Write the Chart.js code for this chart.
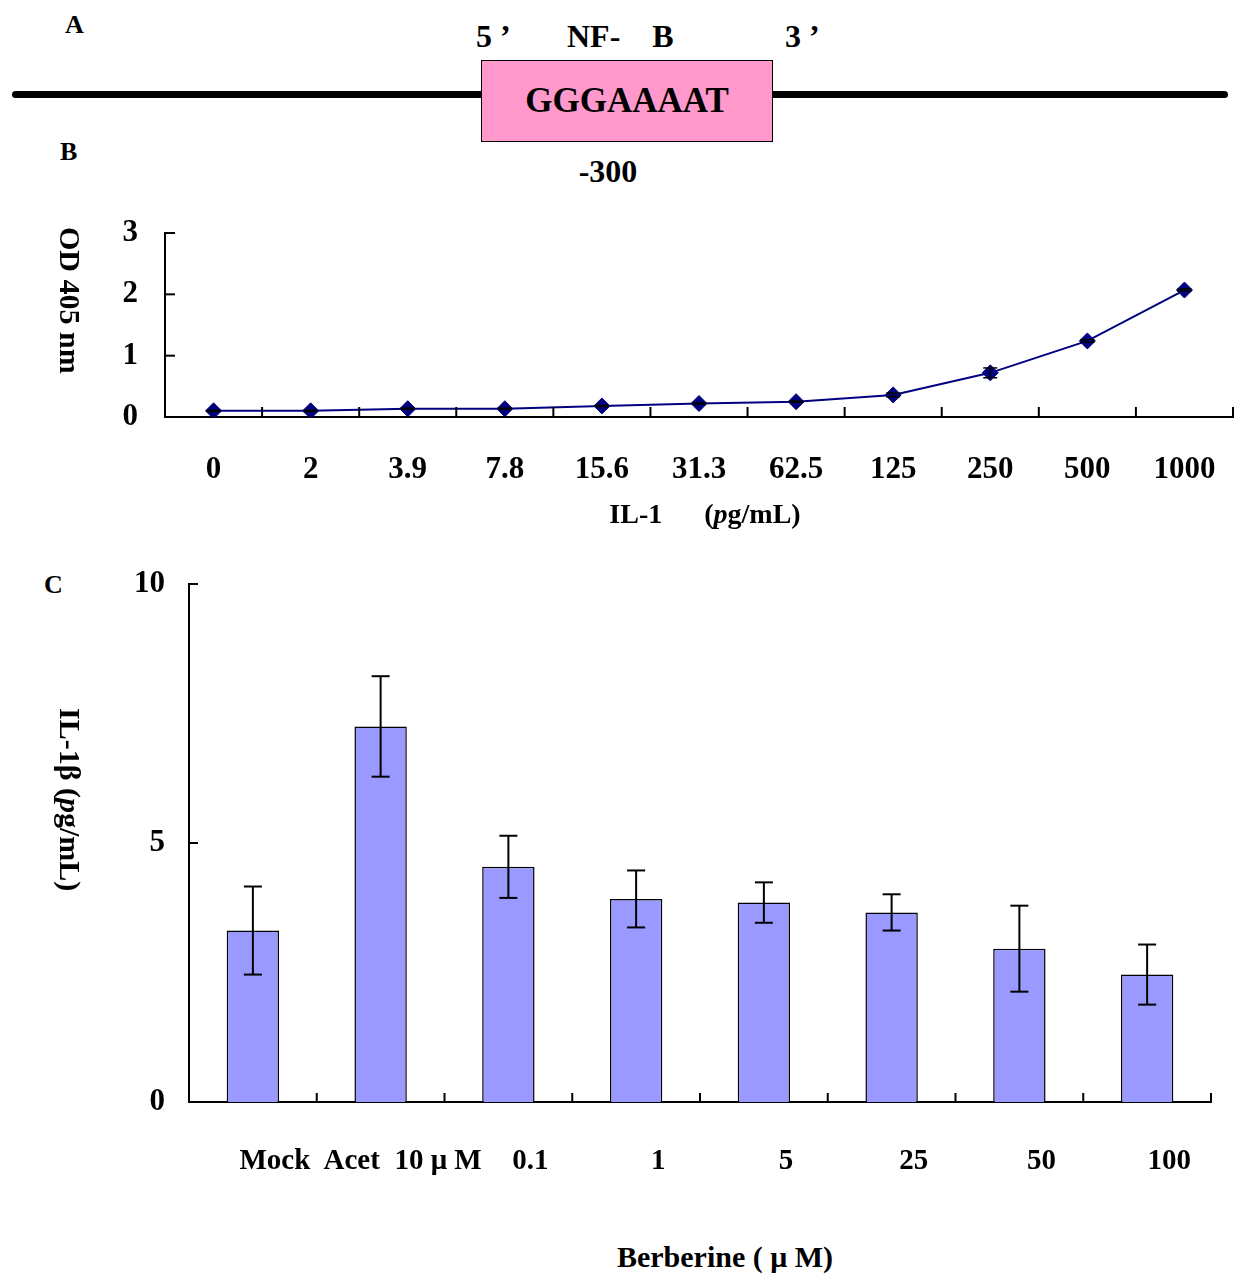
<!DOCTYPE html>
<html>
<head>
<meta charset="utf-8">
<script src="https://cdn.jsdelivr.net/npm/chart.js@4.4.1/dist/chart.umd.min.js"></script>
<style>
body { margin: 0; background: #fff; }
#page { position: relative; width: 1242px; height: 1275px; font-family: "Liberation Serif", "Times New Roman", serif; font-weight: bold; color: #000; }
.t { position: absolute; white-space: pre; line-height: 1; }
.vt { position: absolute; writing-mode: vertical-rl; white-space: pre; line-height: 1; text-align: center; }
canvas { position: absolute; left: 0; }
#dna { position: absolute; left: 12px; top: 91px; width: 1216px; height: 7px; background: #000; border-radius: 4px; }
#box { position: absolute; left: 481px; top: 60px; width: 292px; height: 82px; box-sizing: border-box; background: #ff99cc; border: 1.5px solid #000; display: flex; align-items: center; justify-content: center; font-size: 35px; }
</style>
</head>
<body>
<div id="page">
  <!-- panel A -->
  <div class="t" style="left:65px;top:12px;font-size:26px">A</div>
  <div class="t" style="left:476px;top:20px;font-size:32px">5 ’</div>
  <div class="t" style="left:567px;top:20px;font-size:32px">NF-    B</div>
  <div class="t" style="left:785px;top:20px;font-size:32px">3 ’</div>
  <div id="dna"></div>
  <div id="box">GGGAAAAT</div>
  <div class="t" style="left:408px;width:400px;text-align:center;top:155px;font-size:32px">-300</div>

  <!-- panel B -->
  <div class="t" style="left:60px;top:139px;font-size:26px">B</div>
  <canvas id="chartB" width="1242" height="290" style="top:215px"></canvas>
  <div class="vt" style="left:55px;top:200px;height:200px;font-size:30px">OD 405 nm</div>
  <div class="t" style="left:405px;width:600px;text-align:center;top:500px;font-size:28px">IL-1      (<i>p</i>g/mL)</div>

  <!-- panel C -->
  <div class="t" style="left:44px;top:572px;font-size:26px">C</div>
  <canvas id="chartC" width="1242" height="660" style="top:560px"></canvas>
  <div class="vt" style="left:55px;top:640px;height:320px;font-size:30px">IL-1β (<i>p</i>g/mL)</div>
  <div class="t" style="left:425px;width:600px;text-align:center;top:1242px;font-size:30px">Berberine ( μ M)</div>
</div>

<script>
// panel B: OD405 vs IL-1 concentration
const doseLabels = ['0', '2', '3.9', '7.8', '15.6', '31.3', '62.5', '125', '250', '500', '1000'];
const odValues = [0.10, 0.10, 0.135, 0.135, 0.18, 0.22, 0.25, 0.36, 0.72, 1.24, 2.07];
const odErrors = [0.01, 0.01, 0.01, 0.01, 0.01, 0.01, 0.01, 0.03, 0.08, 0.02, 0.02];

// panel C: IL-1beta under berberine
const groupLabels = ['Mock', 'Acet  10 μ M', '0.1', '1', '5', '25', '50', '100'];
const il1bValues = [3.31, 7.25, 4.54, 3.92, 3.85, 3.66, 2.96, 2.46];
const il1bErrors = [0.85, 0.97, 0.6, 0.55, 0.39, 0.35, 0.83, 0.58];

const tickFont = { family: 'Liberation Serif', size: 31, weight: 'bold' };

// error bars + inward tick marks, drawn from the chart's own scales
const extras = {
  id: 'extras',
  afterDatasetsDraw(chart, args, opts) {
    const ctx = chart.ctx;
    const xs = chart.scales.x, ys = chart.scales.y;
    const meta = chart.getDatasetMeta(0);
    const vals = chart.data.datasets[0].data;
    ctx.save();
    ctx.strokeStyle = '#000';
    ctx.lineWidth = opts.lineWidth;
    const line = (x1, y1, x2, y2) => { ctx.beginPath(); ctx.moveTo(x1, y1); ctx.lineTo(x2, y2); ctx.stroke(); };

    opts.errors.forEach((e, i) => {
      const px = meta.data[i].x;
      const top = ys.getPixelForValue(vals[i] + e);
      const bot = ys.getPixelForValue(vals[i] - e);
      line(px, top, px, bot);
      line(px - opts.cap, top, px + opts.cap, top);
      line(px - opts.cap, bot, px + opts.cap, bot);
    });

    ctx.lineWidth = 2;
    ys.ticks.forEach(t => {
      const py = ys.getPixelForValue(t.value);
      line(xs.left, py, xs.left + opts.tick, py);
    });
    for (let i = 0; i < xs.ticks.length; i++) {
      const px = xs.getPixelForValue(i + 0.5);
      line(px, ys.bottom, px, ys.bottom - opts.tick);
    }
    ctx.restore();
  }
};

// stop tick labels from pushing the plot area in
const fitX = h => s => { s.height = h; s.paddingLeft = 0; s.paddingRight = 0; };
const fitY = w => s => { s.width = w; s.paddingTop = 0; s.paddingBottom = 0; };

new Chart(document.getElementById('chartB'), {
  type: 'line',
  data: {
    labels: doseLabels,
    datasets: [{
      data: odValues,
      borderColor: '#000080',
      backgroundColor: '#000080',
      borderWidth: 2,
      pointStyle: 'rectRot',
      pointRadius: 8,
      pointBorderWidth: 1,
      tension: 0
    }]
  },
  options: {
    responsive: false,
    animation: false,
    events: [],
    layout: { padding: { top: 18, right: 1, left: 0, bottom: 0 } },
    plugins: {
      legend: { display: false },
      tooltip: { enabled: false },
      extras: { errors: odErrors, cap: 7, tick: 10, lineWidth: 1.5 }
    },
    scales: {
      x: {
        offset: true,
        grid: { display: false, offset: true },
        border: { color: '#000', width: 2 },
        ticks: { color: '#000', font: tickFont, padding: 26, maxRotation: 0, autoSkip: false },
        afterFit: fitX(88)
      },
      y: {
        min: 0, max: 3,
        grid: { display: false },
        border: { color: '#000', width: 2 },
        ticks: { color: '#000', font: tickFont, stepSize: 1, padding: 19 },
        afterFit: fitY(165)
      }
    }
  },
  plugins: [extras]
});

new Chart(document.getElementById('chartC'), {
  type: 'bar',
  data: {
    labels: groupLabels,
    datasets: [{
      data: il1bValues,
      backgroundColor: '#9999ff',
      borderColor: '#000',
      borderWidth: 1.5,
      categoryPercentage: 1,
      barPercentage: 0.41
    }]
  },
  options: {
    responsive: false,
    animation: false,
    events: [],
    layout: { padding: { top: 24, right: 31, left: 0, bottom: 0 } },
    plugins: {
      legend: { display: false },
      tooltip: { enabled: false },
      extras: { errors: il1bErrors, cap: 9, tick: 9, lineWidth: 2 }
    },
    scales: {
      x: {
        grid: { display: false, offset: true },
        border: { color: '#000', width: 2 },
        ticks: { color: '#000', font: { ...tickFont, size: 29 }, padding: 34, labelOffset: 22, maxRotation: 0, autoSkip: false },
        afterFit: fitX(118)
      },
      y: {
        min: 0, max: 10,
        grid: { display: false },
        border: { color: '#000', width: 2 },
        ticks: { color: '#000', font: tickFont, stepSize: 5, padding: 16 },
        afterFit: fitY(189)
      }
    }
  },
  plugins: [extras]
});
</script>
</body>
</html>
